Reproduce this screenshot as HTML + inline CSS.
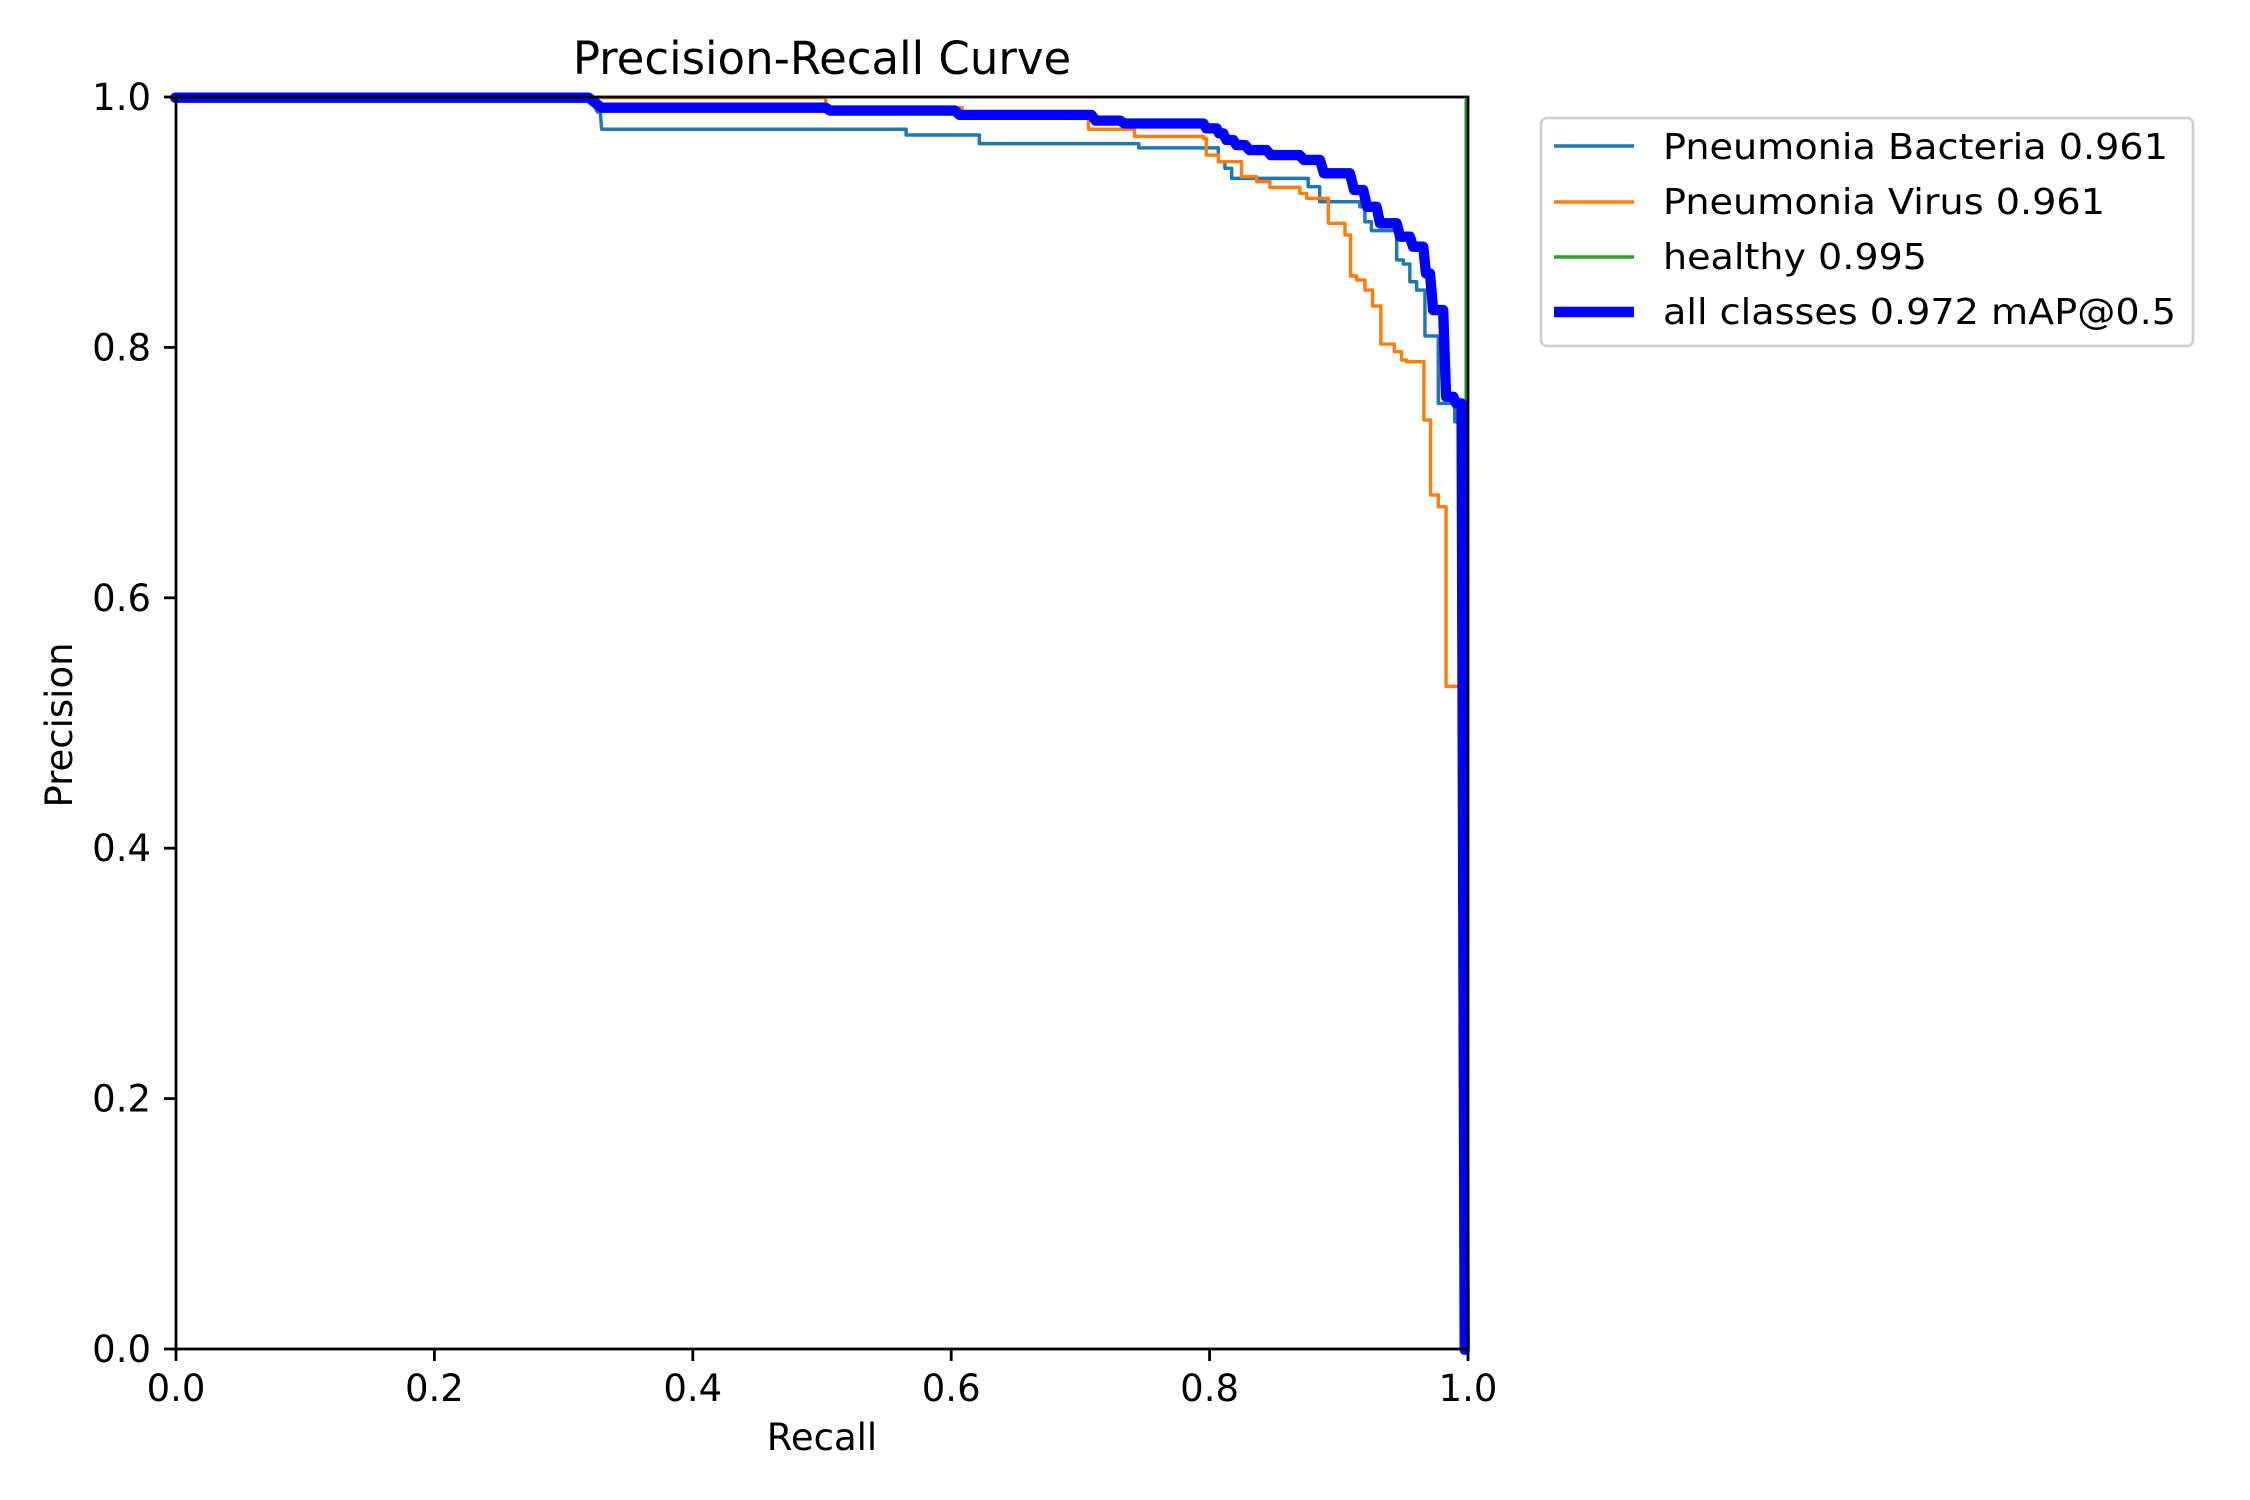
<!DOCTYPE html>
<html><head><meta charset="utf-8"><style>html,body{margin:0;padding:0;background:#fff}svg{display:block}</style></head>
<body>
<svg width="2250" height="1500" viewBox="0 0 2250 1500" xmlns="http://www.w3.org/2000/svg" font-family="DejaVu Sans, Liberation Sans, sans-serif">
<rect width="2250" height="1500" fill="#fff"/>
<g transform="scale(1.436)" fill="none" stroke-linejoin="round" stroke-linecap="round">
<path d="M1021,70 V940" stroke="#2ca02c" stroke-width="2.4"/>
<path d="M122,68 H410 L413,72 L416,78 L418,78 L419,90 H631 V94 H682 V100 H793 V103 H848.4 V112.6 H853 V117.2 H857.7 V124.2 H911 V130 H919 V140.5 H947 V144 H950.5 V154.4 H955 V160.6 H972.6 V181 H977.2 V183.9 H981.8 V196.2 H986.5 V202 H992.3 V234 H1001.6 V280.9 H1013 V293.7 H1017.8 V940" stroke="#1f77b4" stroke-width="2.4"/>
<path d="M122,68 H575 V75 H670 V82 H758 V90 H790 V95 H838 V96.3 H840 V108 H848.4 V112.6 H864.6 V123 H875 V126.5 H884.3 V130.5 H905.2 V134.7 H909.9 V138.1 H925 V155.5 H936.6 V163.7 H940.5 V192.2 H944.7 V195 H950.5 V202 H955.8 V213.1 H961.6 V239.6 H971 V244.9 H976 V250.7 H979.5 V251.9 H991.6 V292.5 H996.2 V344.7 H1001.6 V352.9 H1007 V478 H1019 V940" stroke="#ff7f0e" stroke-width="2.4"/>
<path d="M122,68 H410 L415,72 L419,75 H575 L578,77 H665 L668,80 H760 L763,84 H780 L783,86 H838 L840,89.4 H847.2 L849,92.9 H851.9 L854,97.5 H858.8 L861,101 H867 L870,104.5 H882 L885,108 H905 L908,111.4 H919.2 L922,120.7 H940 L943,132.3 H949.3 L952,144 H958.6 L961,155.5 H972.6 L975,164.8 H981.8 L984,171.8 H991.1 L993,190.4 H995.8 L998,215.9 H1005 L1007,276.3 H1012 L1014,280.9 H1017.8 L1020,940" stroke="#0000ff" stroke-width="7.2"/>
</g>
<rect x="176" y="97" width="1292" height="1252" fill="none" stroke="#000" stroke-width="2.8"/>
<g stroke="#000" stroke-width="2.8">
<line x1="176" y1="1349" x2="176" y2="1361"/><line x1="434.4" y1="1349" x2="434.4" y2="1361"/><line x1="692.8" y1="1349" x2="692.8" y2="1361"/><line x1="951.2" y1="1349" x2="951.2" y2="1361"/><line x1="1209.6" y1="1349" x2="1209.6" y2="1361"/><line x1="1468" y1="1349" x2="1468" y2="1361"/>
<line x1="164" y1="1349" x2="176" y2="1349"/><line x1="164" y1="1098.6" x2="176" y2="1098.6"/><line x1="164" y1="848.2" x2="176" y2="848.2"/><line x1="164" y1="597.8" x2="176" y2="597.8"/><line x1="164" y1="347.4" x2="176" y2="347.4"/><line x1="164" y1="97" x2="176" y2="97"/>
</g>
<g font-size="37" fill="#000" text-anchor="middle">
<text x="176" y="1401">0.0</text><text x="434.4" y="1401">0.2</text><text x="692.8" y="1401">0.4</text><text x="951.2" y="1401">0.6</text><text x="1209.6" y="1401">0.8</text><text x="1468" y="1401">1.0</text>
</g>
<g font-size="37" fill="#000" text-anchor="end">
<text x="151" y="1362">0.0</text><text x="151" y="1111.6">0.2</text><text x="151" y="861.2">0.4</text><text x="151" y="610.8">0.6</text><text x="151" y="360.4">0.8</text><text x="151" y="110">1.0</text>
</g>
<text x="822" y="1450" font-size="37" text-anchor="middle">Recall</text>
<text x="0" y="0" font-size="37" text-anchor="middle" transform="translate(72,725) rotate(-90)">Precision</text>
<text x="822" y="74" font-size="45" text-anchor="middle">Precision-Recall Curve</text>
<rect x="1541" y="118" width="652" height="228" rx="6" fill="#fff" stroke="#d0d0d0" stroke-width="2.8"/>
<line x1="1554" y1="146" x2="1634" y2="146" stroke="#1f77b4" stroke-width="3.5"/>
<line x1="1554" y1="202" x2="1634" y2="202" stroke="#ff7f0e" stroke-width="3.5"/>
<line x1="1554" y1="257" x2="1634" y2="257" stroke="#2ca02c" stroke-width="3.5"/>
<line x1="1554" y1="312" x2="1634" y2="312" stroke="#0000ff" stroke-width="10.4"/>
<g font-size="36" fill="#000">
<text x="1663" y="159" textLength="505" lengthAdjust="spacingAndGlyphs">Pneumonia Bacteria 0.961</text>
<text x="1663" y="214" textLength="442" lengthAdjust="spacingAndGlyphs">Pneumonia Virus 0.961</text>
<text x="1663" y="269" textLength="264" lengthAdjust="spacingAndGlyphs">healthy 0.995</text>
<text x="1663" y="324" textLength="513" lengthAdjust="spacingAndGlyphs">all classes 0.972 mAP@0.5</text>
</g>
</svg>
</body></html>
